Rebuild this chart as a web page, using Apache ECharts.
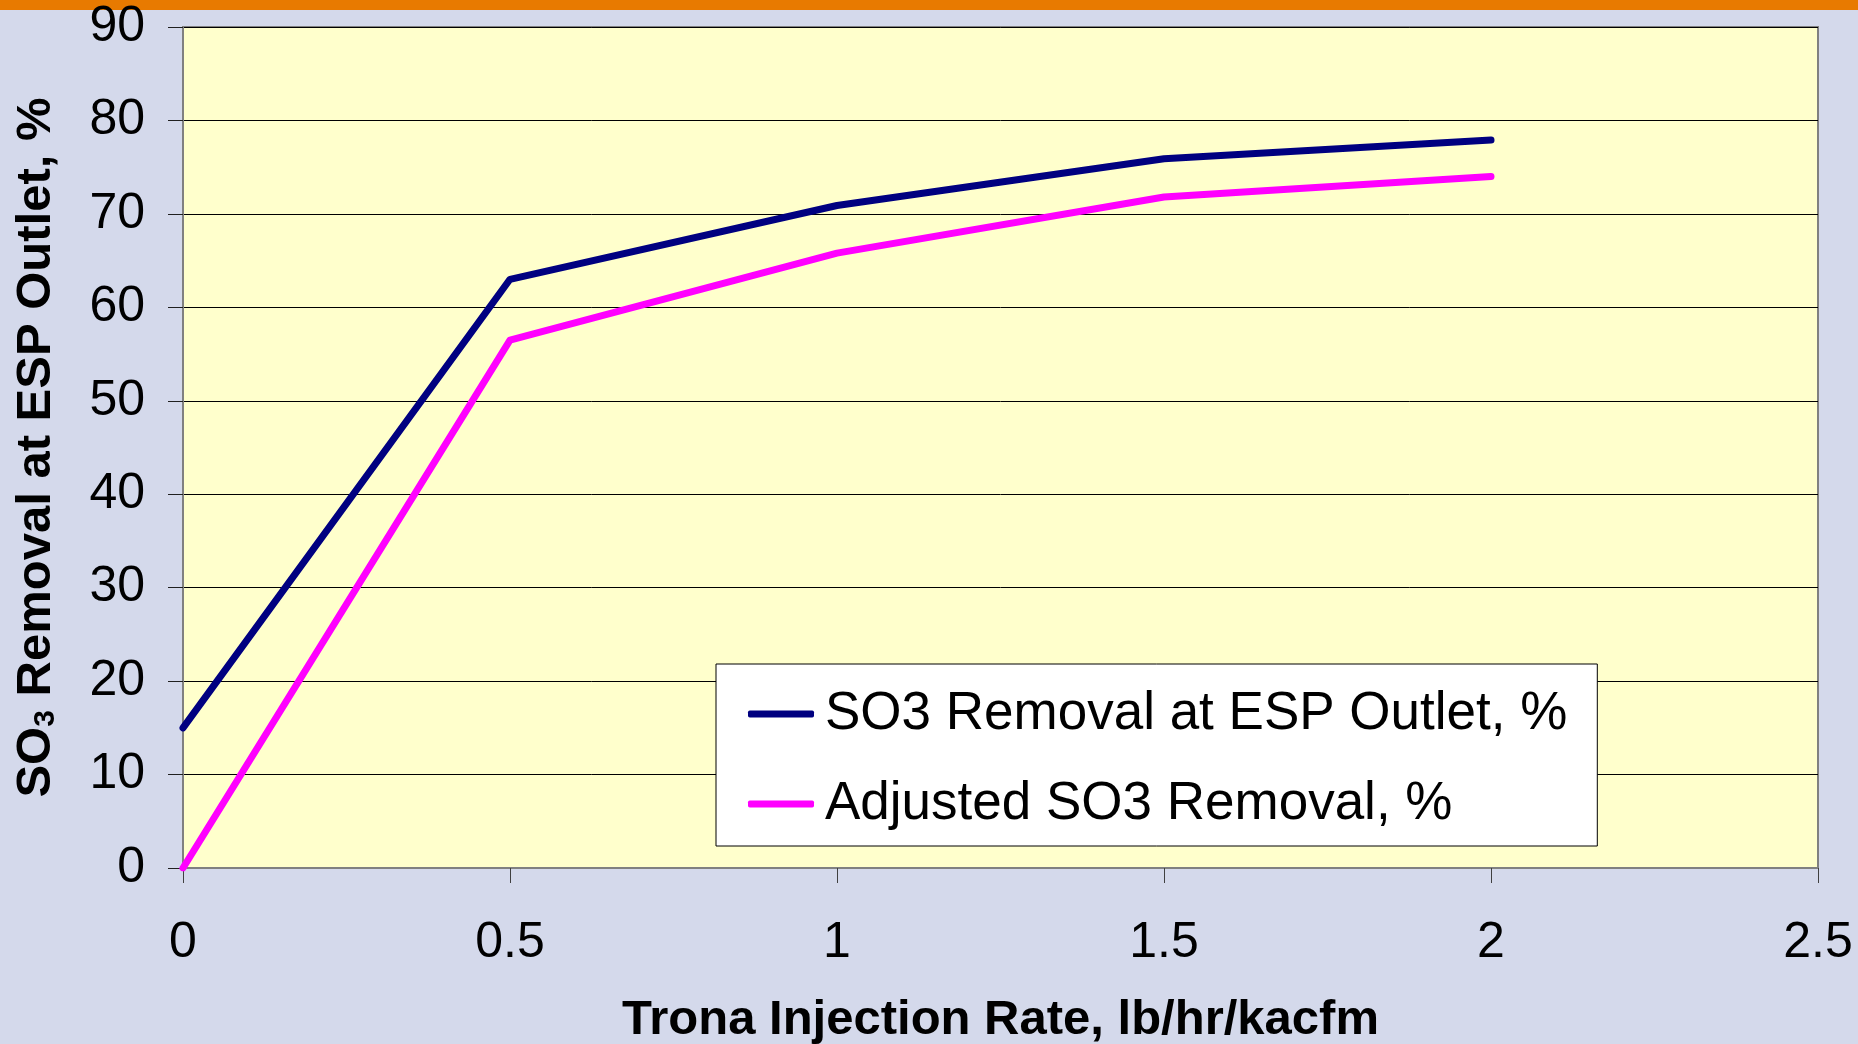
<!DOCTYPE html>
<html>
<head>
<meta charset="utf-8">
<title>SO3 Removal vs Trona Injection Rate</title>
<script src="https://cdn.jsdelivr.net/npm/echarts@6/dist/echarts.min.js"></script>
<style>
    html, body { margin: 0; padding: 0; background: #D4D9EB; }
    #main-chart { width: 1858px; height: 1044px; }
</style>
</head>
<body>
<div id="main-chart"></div>
<script>
// values
var injectionRate = [0, 0.5, 1, 1.5, 2],
    so3Removal = [15, 63, 70.9, 75.9, 77.9],
    adjustedRemoval = [0, 56.5, 65.8, 71.8, 74],
    seriesNames = ['SO3 Removal at ESP Outlet, %', 'Adjusted SO3 Removal, %'];

var toPairs = function (xs, ys) {
    var out = [];
    for (var i = 0; i < xs.length; i++) out.push([xs[i], ys[i]]);
    return out;
};

var fontName = '"Liberation Sans", Arial, sans-serif';

var mainChart = null,
    mainOption = {
        backgroundColor: '#D4D9EB',
        animation: false,
        textStyle: { fontFamily: fontName, color: '#000' },
        graphic: [{
            type: 'rect',
            left: 0,
            top: 0,
            shape: { width: 1858, height: 10 },
            style: { fill: '#E87A00' }
        }],
        grid: {
            left: 183,
            right: 40,
            top: 27,
            bottom: 176,
            outerBoundsMode: 'none',
            show: true,
            backgroundColor: '#FFFFCC',
            borderColor: '#808080',
            borderWidth: 2
        },
        legend: {
            orient: 'vertical',
            left: 716,
            top: 664,
            backgroundColor: '#fff',
            borderColor: '#000',
            borderWidth: 1,
            padding: [21, 30, 13, 32],
            itemGap: 32,
            itemWidth: 66,
            itemHeight: 7,
            icon: 'roundRect',
            textStyle: {
                fontFamily: fontName,
                fontSize: 53,
                lineHeight: 58,
                color: '#000',
                padding: [0, 0, 0, 6]
            },
            data: seriesNames
        },
        xAxis: [{
            type: 'value',
            min: 0,
            max: 2.5,
            interval: 0.5,
            name: 'Trona Injection Rate, lb/hr/kacfm',
            nameLocation: 'middle',
            nameGap: 128,
            nameTextStyle: { fontFamily: fontName, fontSize: 49, fontWeight: 'bold', color: '#000' },
            axisLine: { show: true, lineStyle: { color: '#808080', width: 2 } },
            axisTick: { show: true, inside: false, length: 15, lineStyle: { color: '#404040', width: 1 } },
            axisLabel: { margin: 50, fontSize: 50, fontFamily: fontName, color: '#000' },
            splitLine: { show: false }
        }],
        yAxis: [{
            type: 'value',
            min: 0,
            max: 90,
            interval: 10,
            name: '{a|SO}{s|3}{a| Removal at ESP Outlet, %}',
            nameLocation: 'middle',
            nameGap: 122,
            nameTextStyle: {
                color: '#000',
                rich: {
                    a: { fontFamily: fontName, fontSize: 49, fontWeight: 'bold', color: '#000' },
                    s: { fontFamily: fontName, fontSize: 30, fontWeight: 'bold', color: '#000', padding: [20, 0, 0, 0] }
                }
            },
            axisLine: { show: true, lineStyle: { color: '#808080', width: 2 } },
            axisTick: { show: true, inside: false, length: 15, lineStyle: { color: '#202020', width: 1 } },
            axisLabel: { margin: 38, fontSize: 50, fontFamily: fontName, color: '#000', padding: [6, 0, 0, 0] },
            splitLine: { show: true, lineStyle: { color: '#000', width: 1 } }
        }],
        series: [{
            name: seriesNames[0],
            type: 'line',
            symbol: 'none',
            data: toPairs(injectionRate, so3Removal),
            itemStyle: { color: '#000080' },
            lineStyle: { color: '#000080', width: 7, cap: 'round', join: 'round' }
        }, {
            name: seriesNames[1],
            type: 'line',
            symbol: 'none',
            data: toPairs(injectionRate, adjustedRemoval),
            itemStyle: { color: '#FF00FF' },
            lineStyle: { color: '#FF00FF', width: 7, cap: 'round', join: 'round' }
        }]
    };

mainChart = echarts.init(document.getElementById('main-chart'));
mainChart.setOption(mainOption);
</script>
</body>
</html>
